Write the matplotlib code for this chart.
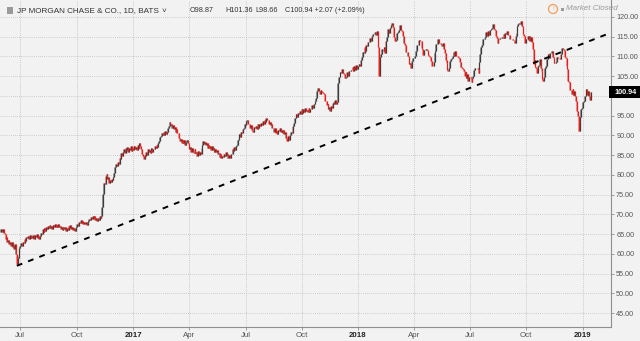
import numpy as np
import pandas as pd
import matplotlib
matplotlib.use("Agg")
import matplotlib.pyplot as plt
from matplotlib import font_manager
from matplotlib.patches import Rectangle, Ellipse
from matplotlib.transforms import blended_transform_factory

# daily closes (JPM, 1D), first bar 2016-05-31
close = [
    65.5, 66.3, 65.6, 66.4, 65.2, 65.0, 63.9, 64.3, 63.1, 63.6, 62.5, 63.0, 62.1, 62.9, 61.7, 62.3, 61.2, 62.6, 60.1,
    57.4, 58.9, 59.6, 61.4, 61.9, 62.8, 62.0, 63.0, 62.7, 63.8, 63.2, 64.3, 64.0,
    64.5, 63.7, 64.7, 64.0, 64.6, 64.1, 64.8, 63.9, 64.7, 64.3, 65.0, 64.0, 64.6, 63.9, 64.5,
    65.3, 65.0, 66.2, 65.6, 66.6, 65.9, 66.8, 66.3, 67.2, 66.5, 67.4, 66.6, 67.0, 66.3, 67.3, 66.8, 67.6, 66.7, 67.4, 66.9, 67.5,
    66.7, 67.1, 66.3, 66.9, 66.0, 66.8, 66.2, 66.7, 65.8, 66.6, 66.1,
    67.0, 66.5, 67.3, 66.4, 66.8, 66.0, 66.5, 65.7, 66.3,
    66.9, 67.5, 67.2, 68.2, 67.8, 68.5,
    67.8, 68.3, 67.5, 68.2, 67.7, 68.1, 67.3, 67.9,
    68.3, 68.9, 68.5, 69.4, 68.9, 69.6, 69.1,
    69.5, 68.7, 69.1, 68.4, 69.2, 68.7, 69.6, 69.0, 69.7,
    71.8, 75.2, 78.0, 77.6, 79.8, 80.3, 78.9, 79.4, 77.9, 78.8, 78.2, 79.1, 78.6, 79.5,
    80.6, 81.9, 82.9, 82.3, 83.4, 82.8, 84.4, 84.0, 85.5, 84.8, 85.9,
    86.5, 85.6, 86.9, 86.2, 87.1, 85.8, 86.9, 86.4, 87.4, 86.1, 86.9, 86.3,
    87.4, 86.6, 87.2, 86.4, 87.5, 86.9, 88.0, 87.3,
    86.5, 85.2, 84.9, 84.0,
    85.1, 84.9, 85.8, 85.1, 86.5, 85.7, 86.2, 85.5, 86.8, 85.9, 86.6,
    86.5, 87.4, 86.7, 87.6, 87.2, 88.0,
    88.6, 89.5, 89.9, 90.6, 90.1,
    90.8, 90.1, 91.2, 90.4, 91.0, 92.0, 92.5, 93.5,
    92.6, 92.9, 91.9, 92.6, 91.7, 92.1, 90.9, 91.7,
    90.7, 90.6, 89.4, 88.5, 89.0, 88.2, 88.8,
    88.1, 88.9, 87.6, 88.4, 88.9, 88.1,
    87.9, 86.5, 87.0, 85.8, 86.8, 85.9, 85.6,
    86.5, 85.6, 85.9, 84.9, 86.0, 85.1, 85.9, 85.2,
    86.8, 87.6, 88.7,
    87.9, 88.3, 87.5, 88.2, 86.9, 87.7, 86.7, 87.3,
    86.4, 87.3, 86.2, 86.7, 85.8, 86.6, 85.9, 86.3,
    85.2, 85.5, 84.6, 85.3, 84.2, 84.9,
    84.6, 85.4, 84.8, 85.8, 85.0, 85.4, 84.3, 85.1, 84.4,
    85.2, 85.4, 86.5, 86.1, 87.0, 86.4, 87.3,
    87.7, 88.8, 89.2, 90.4, 89.6, 90.8, 90.7, 91.6,
    92.0, 93.0, 92.6, 93.7, 93.9,
    92.9, 92.8, 91.8, 92.6, 91.5, 91.4, 91.0,
    92.1, 91.9, 92.5, 91.6, 92.8, 91.9, 93.0, 92.3,
    93.1, 92.7, 93.7, 92.9, 93.9, 93.4, 94.4, 94.0,
    93.9, 92.9, 93.3, 92.6, 92.9, 92.0,
    92.0, 91.0, 91.8, 90.7, 91.1, 90.3,
    91.4, 91.1, 92.0,
    91.0, 91.3, 90.5, 91.4, 90.4, 90.8, 89.4, 88.6,
    89.8, 88.9, 90.1, 90.2, 91.0, 90.7,
    92.4, 93.1, 94.4, 94.5,
    95.4, 94.6, 95.7, 95.4, 96.1, 95.5, 96.6, 95.7, 96.7,
    96.0, 97.0, 96.2, 96.4, 95.9, 96.9, 96.0, 96.8,
    96.8, 97.6, 97.0, 98.0, 97.9, 98.8,
    99.6, 101.3, 101.9,
    101.3, 100.6, 101.5, 101.2, 101.0, 100.8,
    100.4, 98.8, 98.7, 97.6, 98.0,
    96.8, 97.2, 96.3,
    97.5, 96.9, 98.3, 98.5,
    98.0, 98.9, 98.0, 98.4,
    103.3, 104.8, 104.9, 106.1, 105.8, 106.8,
    105.7, 105.6, 104.5, 104.9,
    104.8, 106.0, 105.1, 106.3, 106.2, 106.6, 106.5, 107.3,
    106.4, 107.5, 106.6, 107.8, 106.8, 107.6, 107.6, 108.0, 107.5,
    109.2, 109.8, 111.2,
    111.0, 112.3, 111.5, 112.8, 112.7, 113.7,
    113.7, 114.8, 113.9, 115.2, 115.3, 115.8,
    115.6, 116.2, 115.5, 116.5, 115.4,
    112.3, 105.0, 109.8, 110.6, 112.0,
    111.9, 111.3, 112.3, 110.8,
    113.8, 115.0, 117.0,
    115.9, 117.3, 117.5, 117.9, 118.5,
    117.5, 115.0, 113.8,
    114.2, 115.9, 116.0, 116.2, 116.7, 117.9,
    116.8, 116.5, 115.2, 115.3,
    113.5, 112.8, 111.1, 111.2, 110.2,
    109.9, 108.2, 108.4, 107.1,
    108.9, 109.5, 109.7, 110.1, 111.3,
    111.5, 112.9, 112.8, 114.1, 113.9,
    113.8, 112.1, 111.9, 110.4,
    111.6, 111.7, 112.0, 111.6,
    111.5, 110.3, 110.2, 109.8, 108.9, 107.7, 107.5,
    108.5, 110.8, 111.5, 113.2, 113.2, 114.4,
    113.3, 113.3, 113.1, 113.2, 112.7, 113.3,
    111.8, 110.9, 109.0, 108.3, 106.7, 106.3,
    107.0, 108.8, 109.3, 109.5, 110.0, 111.1, 110.1, 111.3,
    110.2, 110.1, 109.8, 109.6, 108.5, 108.7,
    107.4, 107.1, 106.9, 106.3, 105.0,
    106.1, 104.6, 105.5, 103.8,
    104.9, 104.8, 104.5, 103.6, 104.6,
    105.0, 106.7, 107.1,
    107.1, 107.0, 106.8, 105.8,
    108.7, 110.6, 112.3, 112.9, 114.4,
    114.5, 114.7, 114.9, 116.1, 115.2, 116.5,
    115.5, 116.8, 116.7, 116.9, 117.1, 118.2,
    116.9, 116.6, 115.1, 114.8, 113.4,
    114.5, 114.5, 114.6, 114.7, 114.9, 114.7,
    115.7, 114.7, 116.0, 115.6, 116.5,
    115.5, 115.5, 114.3, 114.5,
    114.3, 114.3, 114.1, 114.2, 113.4,
    115.1, 115.9, 117.7, 118.2,
    118.5, 118.3, 119.1,
    117.7, 117.5, 115.7, 115.1, 113.4,
    114.5, 114.3, 115.3,
    114.2, 115.1, 114.0, 114.9, 113.7,
    111.8, 108.1,
    109.2, 107.3, 107.1, 105.8,
    107.7, 107.9, 109.3,
    107.2, 106.3, 104.3, 103.8,
    104.9, 107.1, 107.7, 109.3,
    109.3, 110.6, 109.5, 110.9, 110.9, 111.3,
    109.9, 109.7, 108.3, 108.4,
    108.5, 109.8, 109.7, 109.5, 109.3,
    110.7, 110.7, 112.1, 112.0,
    111.7, 109.9, 109.6, 107.7, 106.9, 103.7,
    103.5, 101.6, 101.6, 100.5,
    101.7, 100.3, 101.2, 100.0,
    98.8, 96.2, 95.0, 91.1,
    93.5, 94.6, 96.6, 96.9,
    98.4, 98.7, 100.0,
    100.0, 101.8, 100.3, 101.2, 99.9, 98.9, 100.94,
]
start_date = "2016-05-31"

# dashed trend line: bar index / price at both ends
trend_x = [19, 707]
trend_y = [57.0, 116.0]

tick_dates = ["2016-07-01", "2016-10-01", "2017-01-01", "2017-04-01", "2017-07-01", "2017-10-01",
              "2018-01-01", "2018-04-01", "2018-07-01", "2018-10-01", "2019-01-01"]
tick_labels = ["Jul", "Oct", "2017", "Apr", "Jul", "Oct", "2018", "Apr", "Jul", "Oct", "2019"]
price_ticks = np.arange(45, 121, 5)
last_price = 100.94

header = "JP MORGAN CHASE & CO., 1D, BATS"
ohlc_items = ["O98.87", "H101.36", "L98.66", "C100.94 +2.07 (+2.09%)"]
ohlc_px = [190, 225, 255, 285]

# narrow font if we have it (the chart's labels are condensed)
names = {f.name for f in font_manager.fontManager.ttflist}
if "Liberation Sans Narrow" in names:
    font, fs_head, fs_ohlc, fs_tick, fs_x = "Liberation Sans Narrow", 7.1, 6.2, 6.3, 6.9
else:
    font, fs_head, fs_ohlc, fs_tick, fs_x = "Liberation Sans", 5.9, 5.2, 5.2, 5.7
plt.rcParams["font.family"] = [font, "DejaVu Sans"]

close = np.array(close)
opn = np.r_[close[0], close[:-1]]
nxt = np.r_[close[1:], close[-1]]
hi = np.maximum(np.maximum(opn, close), nxt)
lo = np.minimum(np.minimum(opn, close), nxt)
dates = pd.bdate_range(start_date, periods=len(close))
bars = np.arange(len(close))
tick_pos = dates.searchsorted(pd.to_datetime(tick_dates))

bg = "#f2f2f2"
fig = plt.figure(figsize=(6.4, 3.41), dpi=100, facecolor=bg)
ax = fig.add_axes([0, 14 / 341, 611 / 640, 327 / 341])
ax.set_facecolor(bg)
ax.set_xlim(-0.5, 707.5)
ax.set_ylim(41.5, 124.3)

ax.set_xticks(tick_pos)
ax.set_xticklabels(tick_labels)
ax.set_yticks(price_ticks)
ax.set_yticklabels(["%.2f" % v for v in price_ticks])
ax.yaxis.tick_right()
ax.grid(color="#bdbdbd", linestyle=(0, (1, 1.5)), lw=0.6)
ax.set_axisbelow(True)
for s in ("top", "left"):
    ax.spines[s].set_visible(False)
for s in ("right", "bottom"):
    ax.spines[s].set_color("#8f8f8f")
    ax.spines[s].set_linewidth(0.8)
ax.tick_params(axis="both", labelsize=fs_tick, colors="#8f8f8f", labelcolor="#555555",
               length=2.5, width=0.6, pad=1.2)
ax.tick_params(axis="x", labelsize=fs_x, pad=0.8)
for lab in ax.get_xticklabels():
    if lab.get_text().isdigit():
        lab.set_fontweight("bold")
        lab.set_color("#222222")

# candles (about 1 px wide at this scale): light wick, darker body
up = close >= opn
ax.vlines(bars[up], lo[up], hi[up], color="#9a9a9a", lw=0.7)
ax.vlines(bars[~up], lo[~up], hi[~up], color="#f19a98", lw=0.7)
ax.vlines(bars[up], opn[up], close[up], color="#3c3c3c", lw=0.9)
ax.vlines(bars[~up], close[~up], opn[~up], color="#e3201b", lw=0.9)

ax.plot(trend_x, trend_y, color="black", lw=1.4, dashes=(3, 3.2), solid_capstyle="butt")

# last price tag on the price scale
tr = blended_transform_factory(ax.transAxes, ax.transData)
ax.add_patch(Rectangle((1 - 2 / 611, last_price - 1.55), 32 / 611, 3.1, transform=tr,
                       fc="black", ec="none", clip_on=False, zorder=5))
ax.text(626 / 611, last_price, "%.2f" % last_price, transform=tr, ha="center", va="center",
        fontsize=fs_tick, color="white", fontweight="bold", clip_on=False, zorder=6)

# header line
fig.patches.append(Rectangle((7 / 640, 1 - 14 / 341), 6 / 640, 7 / 341, transform=fig.transFigure,
                             fc="#9a9a9a", ec="none"))
fig.text(17 / 640, 1 - 11 / 341, header, fontsize=fs_head, color="#333333", va="center")
fig.text(162 / 640, 1 - 11 / 341, "\u02c5", fontsize=fs_head, color="#333333", va="center")
for txt, px in zip(ohlc_items, ohlc_px):
    fig.text(px / 640, 1 - 11 / 341, txt, fontsize=fs_ohlc, color="#333333", va="center")

fig.patches.append(Ellipse((553 / 640, 1 - 9 / 341), 9 / 640, 9 / 341, transform=fig.transFigure,
                           fc="none", ec="#f0a060", lw=0.9))
fig.text(553 / 640, 1 - 9 / 341, "!", fontsize=4.5, color="#f0a060", ha="center", va="center")
fig.patches.append(Rectangle((561 / 640, 1 - 10.5 / 341), 3 / 640, 3 / 341, transform=fig.transFigure,
                             fc="#9a9a9a", ec="none"))
fig.text(566 / 640, 1 - 9 / 341, "Market Closed", fontsize=5.8, color="#9a9a9a",
         style="italic", va="center")

fig.savefig("out.png", dpi=100, facecolor=bg)
